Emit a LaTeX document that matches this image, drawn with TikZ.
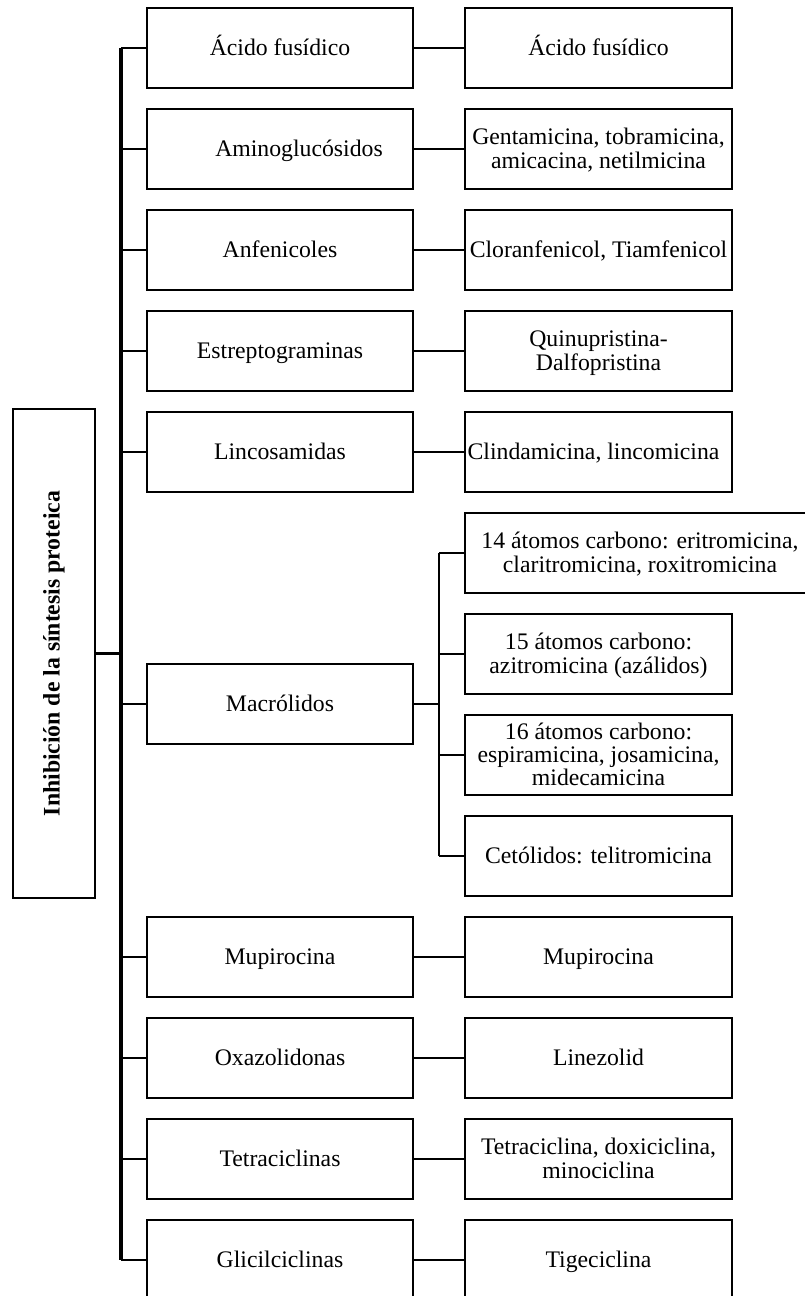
\documentclass[tikz,border=0pt]{standalone}
\usepackage{fontspec}
\setmainfont{Liberation Serif}
% centred text block of #1 lines whose baselines are spread evenly around a
% point slightly below the middle of the box
\newcommand\cell[2][1]{%
  \raisebox{\dimexpr #1\dimexpr 8.8pt\relax - 14.4pt\relax}[0pt][0pt]{%
    \begin{tabular}[t]{@{}c@{}}#2\end{tabular}}}
\begin{document}
\begin{tikzpicture}[x=0.75pt,y=-0.75pt,
  box/.style={draw, line width=2.1pt, inner sep=0pt,
    minimum width=266*0.75pt, minimum height=80*0.75pt,
    font=\fontsize{17.8}{17.6}\selectfont},
  drug/.style={box, minimum width=267*0.75pt},
  link/.style={line width=2pt},
  trunkline/.style={line width=2.4pt}]
\useasboundingbox (0,0) rectangle (805,1296);
\clip (0,0) rectangle (805,1296);
\fill[white] (0,0) rectangle (805,1296);

% root box with vertical title
\node[box, minimum width=82*0.75pt, minimum height=489*0.75pt] (main) at (54,653.5) {};
\node[rotate=90, font=\fontsize{17.8}{17.6}\selectfont\bfseries] (title) at (main.center) {Inhibición de la síntesis proteica};

% trunk positions
\coordinate (trunk) at (121,0);
\coordinate (sub) at (439,0);

% families (left column)
\node[box] (L0)  at (280,48)   {\cell{Ácido fusídico}};
\node[box] (L1)  at (280,149)  {\cell{\hspace*{28.5pt}Aminoglucósidos}};
\node[box] (L2)  at (280,250)  {\cell{Anfenicoles}};
\node[box] (L3)  at (280,351)  {\cell{Estreptograminas}};
\node[box] (L4)  at (280,452)  {\cell{Lincosamidas}};
\node[box] (M)   at (280,704)  {\cell{Macrólidos}};
\node[box] (L9)  at (280,957)  {\cell{Mupirocina}};
\node[box] (L10) at (280,1058) {\cell{Oxazolidonas}};
\node[box] (L11) at (280,1159) {\cell{Tetraciclinas}};
\node[box] (L12) at (280,1260) {\cell{Glicilciclinas}};

% drugs (right column)
\node[drug] (R0)  at (598.5,48)   {\cell{Ácido fusídico}};
\node[drug] (R1)  at (598.5,149)  {\cell[2]{Gentamicina, tobramicina,\\amicacina, netilmicina}};
\node[drug] (R2)  at (598.5,250)  {\cell{Cloranfenicol, Tiamfenicol}};
\node[drug] (R3)  at (598.5,351)  {\cell[2]{Quinupristina-\\Dalfopristina}};
\node[drug] (R4)  at (598.5,452)  {\cell{Clindamicina, lincomicina\hspace*{7.5pt}}};
\node[box, minimum width=350*0.75pt] (S1) at (640,553) {\cell[2]{14 átomos carbono: eritromicina,\\claritromicina, roxitromicina}};
\node[drug] (S2)  at (598.5,654)  {\cell[2]{15 átomos carbono:\\azitromicina (azálidos)}};
\node[drug] (S3)  at (598.5,755)  {\cell[3]{16 átomos carbono:\\espiramicina, josamicina,\\midecamicina}};
\node[drug] (S4)  at (598.5,856)  {\cell{Cetólidos: telitromicina}};
\node[drug] (R9)  at (598.5,957)  {\cell{Mupirocina}};
\node[drug] (R10) at (598.5,1058) {\cell{Linezolid}};
\node[drug] (R11) at (598.5,1159) {\cell[2]{Tetraciclina, doxiciclina,\\minociclina}};
\node[drug] (R12) at (598.5,1260) {\cell{Tigeciclina}};

% main trunk
\draw[trunkline] (L0.west -| trunk) -- (L12.west -| trunk);
\draw[link] (main.east) -- (main.east -| trunk);
\foreach \n in {L0,L1,L2,L3,L4,M,L9,L10,L11,L12}
  \draw[link] (\n.west -| trunk) -- (\n.west);

% family to drug links
\foreach \a/\b in {L0/R0,L1/R1,L2/R2,L3/R3,L4/R4,L9/R9,L10/R10,L11/R11,L12/R12}
  \draw[link] (\a.east) -- (\b.west);

% macrolide sub-tree
\draw[link] (M.east) -- (M.east -| sub);
\draw[link] (S1.west -| sub) -- (S4.west -| sub);
\foreach \n in {S1,S2,S3,S4}
  \draw[link] (\n.west -| sub) -- (\n.west);
\end{tikzpicture}
\end{document}
